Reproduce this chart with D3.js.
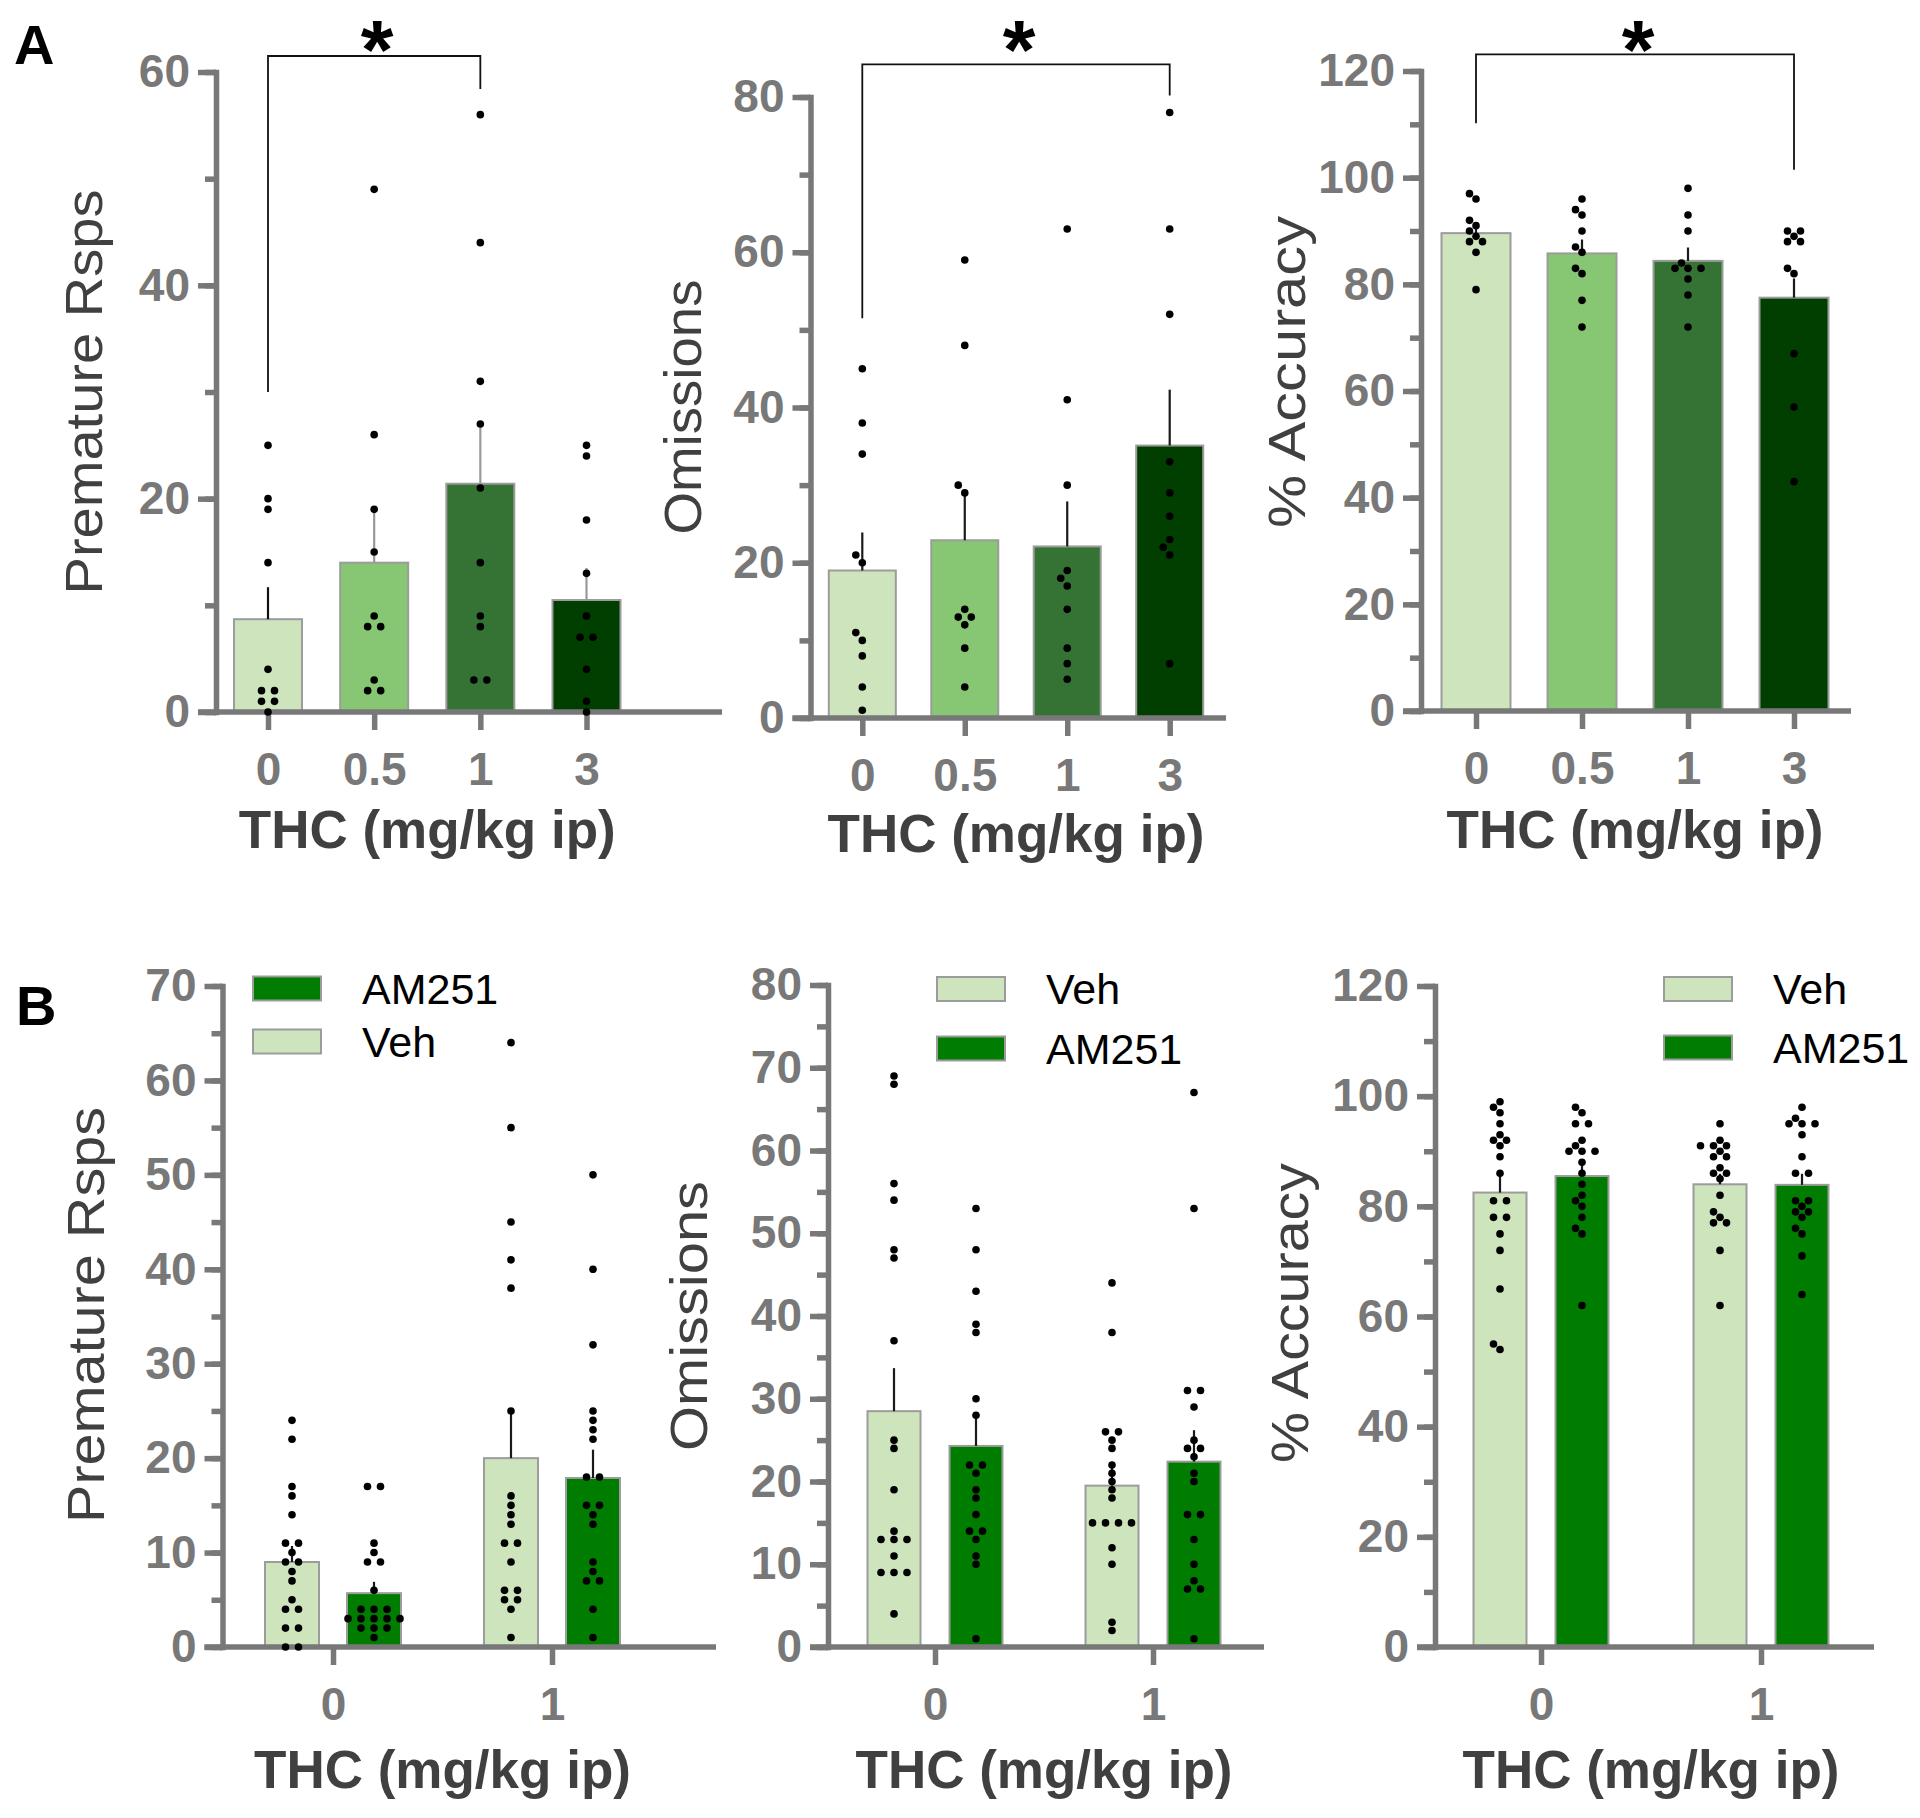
<!DOCTYPE html>
<html>
<head>
<meta charset="utf-8">
<script src="https://cdn.jsdelivr.net/npm/d3@7"></script>
<style>
	body { margin: 0; background: #fff; }
	svg { display: block; font-family: "Liberation Sans", Arial, sans-serif; }
	.axis line, .axis .domain, .axisline {
		stroke: #787878;
		stroke-width: 5.5px;
	}
	.axis .domain { stroke-linecap: square; }
	.axis text {
		fill: #787878;
		font-size: 46px;
		font-weight: bold;
		font-family: "Liberation Sans", Arial, sans-serif;
	}
	.ytitle { fill: #404040; font-size: 52px; }
	.xtitle { fill: #404040; font-size: 53px; font-weight: bold; }
	.legend text { fill: #000; font-size: 43px; }
	.plabel { fill: #000; font-size: 56px; font-weight: bold; }
	.star { fill: #000; font-size: 84px; font-weight: bold; }
</style>
</head>
<body>
<div id="chart"></div>
<script>
	// categories
	const doseCats = ["0", "0.5", "1", "3"];
	const thcCats = ["0", "1"];
	const groups = ["Veh", "AM251"];

	// tick labels
	const ticksPremA = [0, 20, 40, 60];
	const ticksOmA = [0, 20, 40, 60, 80];
	const ticksAcc = [0, 20, 40, 60, 80, 100, 120];
	const ticksPremB = [0, 10, 20, 30, 40, 50, 60, 70];
	const ticksOmB = [0, 10, 20, 30, 40, 50, 60, 70, 80];

	// A - premature responses (mean, top of error bar, single animals)
	const premAMean = [8.7, 14.0, 21.4, 10.5];
	const premAErr = [11.7, 18.9, 26.9, 13.5];
	const premAPts = [
		[25, 20, 19, 14, 4, 2, 2, 1, 1, 0],
		[49, 26, 19, 15, 9, 8, 8, 3, 2, 2],
		[56, 44, 31, 27, 21, 14, 9, 8, 3, 3],
		[25, 24, 18, 13, 9, 7, 7, 4, 1, 0]
	];

	// A - omissions
	const omAMean = [19.0, 22.9, 22.1, 35.1];
	const omAErr = [23.9, 28.6, 27.9, 42.3];
	const omAPts = [
		[45, 38, 34, 21, 20, 11, 10, 8, 4, 1],
		[59, 48, 30, 29, 14, 13, 13, 12, 9, 4],
		[63, 41, 30, 19, 18, 17, 14, 9, 7, 5],
		[78, 63, 52, 33, 29, 26, 23, 22, 21, 7]
	];

	// A - accuracy
	const accAMean = [89.6, 85.8, 84.4, 77.5];
	const accAErr = [91.2, 88.4, 86.9, 81.1];
	const accAPts = [
		[97, 96, 92, 91, 90, 89, 88, 88, 86, 79],
		[96, 94, 93, 90, 87, 86, 83, 82, 77, 72],
		[98, 93, 90, 84, 83, 83, 83, 81, 78, 72],
		[90, 90, 89, 88, 88, 83, 82, 67, 57, 43]
	];

	// B - premature responses, by THC dose
	const premBVehMean = [9.0, 20.0];
	const premBVehErr = [10.7, 24.9];
	const premBAmMean = [5.7, 17.9];
	const premBAmErr = [6.9, 20.9];
	const premBVehPts = [
		[24, 22, 17, 16, 14, 11, 11, 10, 9, 9, 8, 7, 5, 4, 4, 2, 2, 0, 0],
		[64, 55, 45, 41, 38, 25, 16, 15, 14, 13, 11, 11, 9, 6, 6, 5, 5, 4, 1]
	];
	const premBAmPts = [
		[17, 17, 11, 10, 9, 9, 6, 4, 4, 4, 3, 3, 3, 3, 3, 2, 2, 2, 1],
		[50, 40, 32, 25, 24, 23, 22, 18, 18, 15, 15, 14, 13, 9, 8, 7, 7, 4, 1]
	];

	// B - omissions
	const omBVehMean = [28.5, 19.5];
	const omBVehErr = [33.7, 21.7];
	const omBAmMean = [24.3, 22.4];
	const omBAmErr = [27.6, 26.2];
	const omBVehPts = [
		[69, 68, 56, 54, 48, 47, 37, 25, 24, 19, 14, 13, 13, 13, 11, 9, 9, 9, 4],
		[44, 38, 26, 26, 25, 24, 22, 21, 20, 19, 18, 15, 15, 15, 15, 12, 10, 3, 2]
	];
	const omBAmPts = [
		[53, 48, 43, 39, 38, 30, 28, 22, 22, 21, 19, 18, 16, 14, 14, 13, 11, 10, 1],
		[67, 53, 31, 31, 29, 25, 24, 24, 23, 21, 20, 16, 16, 13, 10, 8, 7, 7, 1]
	];

	// B - accuracy
	const accBVehMean = [82.5, 84.0];
	const accBVehErr = [85.9, 85.9];
	const accBAmMean = [85.5, 83.9];
	const accBAmErr = [87.9, 85.9];
	const accBVehPts = [
		[99, 98, 97, 95, 93, 92, 92, 91, 89, 86, 81, 81, 78, 78, 75, 72, 65, 55, 54],
		[95, 92, 91, 91, 91, 90, 89, 89, 87, 86, 86, 85, 82, 79, 78, 77, 77, 72, 62]
	];
	const accBAmPts = [
		[98, 97, 95, 95, 92, 91, 90, 90, 90, 88, 86, 84, 82, 81, 80, 78, 76, 75, 62],
		[98, 96, 95, 95, 95, 93, 89, 86, 86, 81, 81, 80, 79, 79, 78, 76, 75, 71, 64]
	];

	// colours
	const doseColors = ["#cde4bd", "#87c672", "#357334", "#003f00"];
	const groupColors = { "Veh": "#cde4bd", "AM251": "#007c00" };

	const svg = d3.select("#chart")
		.append("svg")
		.attr("width", 1920)
		.attr("height", 1818);

	svg.append("rect").attr("width", 1920).attr("height", 1818).attr("fill", "#fff");

	// beeswarm-ish spread: equal values side by side, close values pushed aside
	function swarm(vals, y, step, dmin) {
		const idx = vals.map((v, i) => i).sort((a, b) => vals[a] - vals[b]);
		const placed = [];
		const off = new Array(vals.length);
		const shifts = [0, -step / 2, step / 2, -step, step, -1.5 * step, 1.5 * step, -2 * step, 2 * step];
		let k = 0;
		while (k < idx.length) {
			let j = k;
			while (j < idx.length && vals[idx[j]] === vals[idx[k]]) j++;
			const n = j - k;
			const py = y(vals[idx[k]]);
			let best = 0;
			for (const sh of shifts) {
				const xs = d3.range(n).map(i => (i - (n - 1) / 2) * step + sh);
				const ok = xs.every(px => placed.every(p => Math.hypot(p[0] - px, p[1] - py) >= dmin));
				if (ok) { best = sh; break; }
			}
			for (let i = 0; i < n; i++) {
				const px = (i - (n - 1) / 2) * step + best;
				off[idx[k + i]] = px;
				placed.push([px, py]);
			}
			k = j;
		}
		return off;
	}

	function drawPanel(cfg) {
		const g = svg.append("g");

		const y = d3.scaleLinear().domain([0, cfg.yMax]).range([cfg.y0, cfg.yTop]);
		const x = d3.scalePoint().domain(cfg.cats).range(cfg.catRange);
		const sub = cfg.groups
			? d3.scalePoint().domain(cfg.groups).range([-cfg.subGap, cfg.subGap])
			: () => 0;

		// bars
		cfg.items.forEach(d => {
			const cx = x(d.cat) + sub(d.group);
			g.append("rect")
				.attr("x", cx - cfg.barW / 2)
				.attr("y", y(d.mean))
				.attr("width", cfg.barW)
				.attr("height", y(0) - y(d.mean))
				.attr("fill", d.fill)
				.attr("stroke", "#9c9c9c")
				.attr("stroke-width", 2);
		});

		// y axis: minor then major ticks
		g.append("g")
			.attr("class", "axis")
			.attr("transform", `translate(${cfg.ax},0)`)
			.call(d3.axisLeft(y).tickValues(d3.range(0, cfg.yMax + 0.01, cfg.minor)).tickSize(11).tickSizeOuter(0).tickFormat(""))
			.select(".domain").remove();

		g.append("g")
			.attr("class", "axis")
			.attr("transform", `translate(${cfg.ax},0)`)
			.call(d3.axisLeft(y).tickValues(cfg.yTicks).tickSize(18).tickPadding(8).tickSizeOuter(0));

		// x axis
		g.append("line")
			.attr("class", "axisline")
			.attr("x1", cfg.ax - 18)
			.attr("x2", cfg.xEnd)
			.attr("y1", cfg.y0)
			.attr("y2", cfg.y0);

		g.append("g")
			.attr("class", "axis")
			.attr("transform", `translate(0,${cfg.y0})`)
			.call(d3.axisBottom(x).tickSize(18).tickPadding(22).tickSizeOuter(0))
			.select(".domain").remove();

		// error bars (upper SEM only) and single points
		cfg.items.forEach(d => {
			const cx = x(d.cat) + sub(d.group);
			g.append("line")
				.attr("x1", cx).attr("x2", cx)
				.attr("y1", y(d.mean)).attr("y2", y(d.err))
				.attr("stroke", d.errColor || "#1a1a1a")
				.attr("stroke-width", 2.2);

			const offs = swarm(d.pts, y, 13, 8.2);
			g.selectAll(null)
				.data(d.pts)
				.join("circle")
				.attr("cx", (v, i) => cx + offs[i])
				.attr("cy", v => y(v))
				.attr("r", 3.8)
				.attr("fill", "#000");
		});

		// axis titles
		g.append("text")
			.attr("class", "ytitle")
			.attr("text-anchor", "middle")
			.attr("textLength", cfg.titleLen)
			.attr("lengthAdjust", "spacingAndGlyphs")
			.attr("transform", `translate(${cfg.titleX},${cfg.titleY}) rotate(-90)`)
			.text(cfg.title);

		g.append("text")
			.attr("class", "xtitle")
			.attr("text-anchor", "middle")
			.attr("x", (cfg.catRange[0] + cfg.catRange[1]) / 2)
			.attr("y", cfg.y0 + cfg.xTitleDy)
			.text("THC (mg/kg ip)");

		// significance bracket
		if (cfg.sig) {
			const s = cfg.sig;
			const x1 = x(s.from), x2 = x(s.to);
			g.append("path")
				.attr("d", `M${x1},${y(s.left)}V${y(s.top)}H${x2}V${y(s.right)}`)
				.attr("fill", "none")
				.attr("stroke", "#111")
				.attr("stroke-width", 1.8);
			g.append("text")
				.attr("class", "star")
				.attr("text-anchor", "middle")
				.attr("x", (x1 + x2) / 2 + 3)
				.attr("y", 79)
				.text("*");
		}

		// legend
		if (cfg.legend) {
			const lg = g.append("g").attr("class", "legend");
			cfg.legend.forEach((name, i) => {
				const ly = cfg.legY + i * cfg.legStep;
				lg.append("rect")
					.attr("x", cfg.legX)
					.attr("y", ly - 12)
					.attr("width", 68)
					.attr("height", 24)
					.attr("fill", groupColors[name])
					.attr("stroke", "#9c9c9c")
					.attr("stroke-width", 2);
				lg.append("text")
					.attr("x", cfg.legX + 109)
					.attr("y", ly + 15)
					.text(name);
			});
		}
	}

	function doseItems(means, errs, pts, errColors) {
		return doseCats.map((c, i) => ({
			cat: c, group: null, mean: means[i], err: errs[i], pts: pts[i],
			fill: doseColors[i], errColor: errColors ? errColors[i] : null
		}));
	}

	function groupItems(vm, ve, vp, am, ae, ap) {
		const out = [];
		thcCats.forEach((c, i) => {
			out.push({ cat: c, group: "Veh", mean: vm[i], err: ve[i], pts: vp[i], fill: groupColors.Veh });
			out.push({ cat: c, group: "AM251", mean: am[i], err: ae[i], pts: ap[i], fill: groupColors.AM251 });
		});
		return out;
	}

	// ---- row A ----
	drawPanel({
		ax: 216, xEnd: 722, cats: doseCats, catRange: [268, 586.5],
		y0: 712, yTop: 72, yMax: 60, yTicks: ticksPremA, minor: 10, barW: 68,
		title: "Premature Rsps", titleX: 102, titleY: 392, titleLen: 405, xTitleDy: 136,
		items: doseItems(premAMean, premAErr, premAPts, ["#111", "#999", "#999", "#999"]),
		sig: { from: "0", to: "1", left: 30, right: 58.4, top: 61.5 }
	});

	drawPanel({
		ax: 810.5, xEnd: 1226, cats: doseCats, catRange: [862.3, 1169.7],
		y0: 718, yTop: 97, yMax: 80, yTicks: ticksOmA, minor: 10, barW: 67,
		title: "Omissions", titleX: 701, titleY: 407, titleLen: 255, xTitleDy: 134,
		items: doseItems(omAMean, omAErr, omAPts),
		sig: { from: "0", to: "3", left: 51.5, right: 80.2, top: 84.2 }
	});

	drawPanel({
		ax: 1421, xEnd: 1851, cats: doseCats, catRange: [1476, 1794],
		y0: 711, yTop: 71, yMax: 120, yTicks: ticksAcc, minor: 10, barW: 69,
		title: "% Accuracy", titleX: 1305, titleY: 372, titleLen: 312, xTitleDy: 137,
		items: doseItems(accAMean, accAErr, accAPts),
		sig: { from: "0", to: "3", left: 110.2, right: 101.5, top: 123.1 }
	});

	// ---- row B ----
	drawPanel({
		ax: 222.5, xEnd: 716, cats: thcCats, catRange: [333, 552], groups: groups, subGap: 41,
		y0: 1647, yTop: 986, yMax: 70, yTicks: ticksPremB, minor: 5, barW: 54,
		title: "Premature Rsps", titleX: 104, titleY: 1315, titleLen: 416, xTitleDy: 141,
		items: groupItems(premBVehMean, premBVehErr, premBVehPts, premBAmMean, premBAmErr, premBAmPts),
		legend: ["AM251", "Veh"], legX: 253, legY: 988.5, legStep: 53
	});

	drawPanel({
		ax: 828, xEnd: 1264, cats: thcCats, catRange: [935, 1153], groups: groups, subGap: 41,
		y0: 1647, yTop: 985, yMax: 80, yTicks: ticksOmB, minor: 5, barW: 53,
		title: "Omissions", titleX: 707, titleY: 1316, titleLen: 270, xTitleDy: 141,
		items: groupItems(omBVehMean, omBVehErr, omBVehPts, omBAmMean, omBAmErr, omBAmPts),
		legend: ["Veh", "AM251"], legX: 937, legY: 989, legStep: 59.5
	});

	drawPanel({
		ax: 1435, xEnd: 1874, cats: thcCats, catRange: [1541, 1761], groups: groups, subGap: 41,
		y0: 1647, yTop: 986, yMax: 120, yTicks: ticksAcc, minor: 10, barW: 53,
		title: "% Accuracy", titleX: 1308, titleY: 1313, titleLen: 300, xTitleDy: 141,
		items: groupItems(accBVehMean, accBVehErr, accBVehPts, accBAmMean, accBAmErr, accBAmPts),
		legend: ["Veh", "AM251"], legX: 1664, legY: 989, legStep: 58.5
	});

	// panel letters
	svg.append("text").attr("class", "plabel").attr("x", 14).attr("y", 64).text("A");
	svg.append("text").attr("class", "plabel").attr("x", 16).attr("y", 1025).text("B");
</script>
</body>
</html>
